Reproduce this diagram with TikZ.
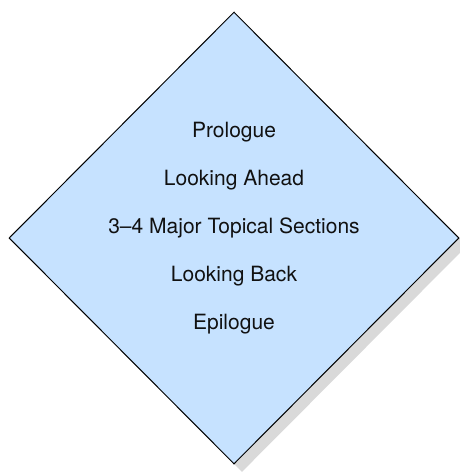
\documentclass[tikz,border=0pt]{standalone}
\usepackage{fontspec}
\setmainfont{TeX Gyre Heros}
\usepackage{tikz}
\usetikzlibrary{shapes.geometric, shadows}
\definecolor{PaleBlue}{HTML}{C6E2FF}
\definecolor{ShadowGray}{HTML}{D9D9D9}
\definecolor{Ink}{HTML}{111111}

\begin{document}
\begin{tikzpicture}[x=1pt, y=-1pt,
    part/.style={anchor=base, text=Ink, inner sep=0pt,
                 font=\fontsize{21pt}{25pt}\selectfont}]
    \useasboundingbox (0,0) rectangle (460,474);

    % Outline of the talk
    \node[diamond, draw=black, line width=1pt, fill=PaleBlue,
          minimum width=450pt, minimum height=452pt, inner sep=0pt,
          drop shadow={shadow xshift=8pt, shadow yshift=-8pt,
                       fill=ShadowGray, opacity=1}] (frame) at (234,238) {};

    % Parts, top to bottom
    \node[part] (prologue) at (234,137) {Prologue};
    \node[part] (ahead)    at (234,185) {Looking Ahead};
    \node[part] (topics)   at (234,233) {3–4 Major Topical Sections};
    \node[part] (back)     at (234,281) {Looking Back};
    \node[part] (epilogue) at (234,329) {Epilogue};
\end{tikzpicture}
\end{document}
